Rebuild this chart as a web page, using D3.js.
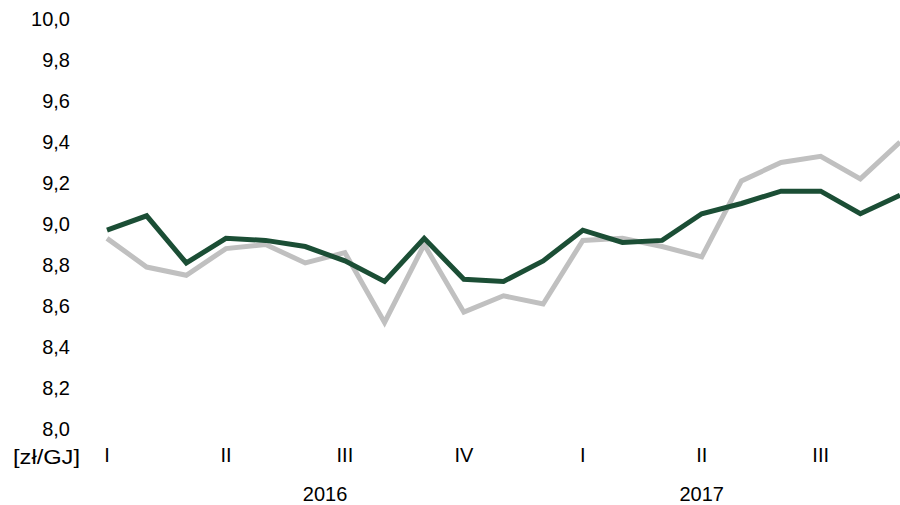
<!DOCTYPE html>
<html><head><meta charset="utf-8">
<script src="https://cdn.jsdelivr.net/npm/d3@7"></script>
<style>body{margin:0;background:#fff}svg{display:block}text{font-family:"Liberation Sans",Arial,sans-serif;fill:#000}</style>
</head><body><svg id="c" width="900" height="505"></svg>
<script>
const darkSeries = [8.97,9.04,8.81,8.93,8.92,8.89,8.82,8.72,8.93,8.73,8.72,8.82,8.97,8.91,8.92,9.05,9.10,9.16,9.16,9.05,9.14];
const graySeries = [8.93,8.79,8.75,8.88,8.90,8.81,8.86,8.52,8.90,8.57,8.65,8.61,8.92,8.93,8.89,8.84,9.21,9.30,9.33,9.22,9.40];
const yTicks = [8.0,8.2,8.4,8.6,8.8,9.0,9.2,9.4,9.6,9.8,10.0];
const quarterLabels = [{i:0,t:"I"},{i:3,t:"II"},{i:6,t:"III"},{i:9,t:"IV"},{i:12,t:"I"},{i:15,t:"II"},{i:18,t:"III"}];
const yearLabels = [{i:5.5,t:"2016"},{i:15,t:"2017"}];
const unitLabel = "[zł/GJ]";

const svg = d3.select("#c");
const x = d3.scaleLinear().domain([0, darkSeries.length-1]).range([107, 900]);
const y = d3.scaleLinear().domain([8, 10]).range([429, 19]);

const yAxis = d3.axisLeft(y).tickValues(yTicks).tickSize(0).tickPadding(0)
  .tickFormat(d => d3.format(".1f")(d).replace(".", ","));
const ga = svg.append("g").attr("transform","translate(70,0)").call(yAxis);
ga.select(".domain").remove();
ga.selectAll("text").style("font-size","20px").style("font-family","Liberation Sans, Arial, sans-serif").attr("fill","#000");

const line = d3.line().x((d,i)=>x(i)).y(d=>y(d));
svg.append("path").datum(graySeries).attr("d",line).attr("fill","none")
  .attr("stroke","#c0c0c0").attr("stroke-width",5).attr("stroke-linejoin","miter");
svg.append("path").datum(darkSeries).attr("d",line).attr("fill","none")
  .attr("stroke","#1b4e35").attr("stroke-width",5).attr("stroke-linejoin","miter");

svg.append("text").attr("x",13).attr("y",457).attr("dy","0.35em")
  .attr("textLength",67).attr("lengthAdjust","spacingAndGlyphs")
  .style("font-size","21px").text(unitLabel);
svg.selectAll(".q").data(quarterLabels).enter().append("text")
  .attr("x",d=>x(d.i)).attr("y",455).attr("dy","0.35em").attr("text-anchor","middle")
  .style("font-size","20px").text(d=>d.t);
svg.selectAll(".yr").data(yearLabels).enter().append("text")
  .attr("x",d=>x(d.i)).attr("y",494).attr("dy","0.35em").attr("text-anchor","middle")
  .style("font-size","20px").text(d=>d.t);
</script></body></html>
